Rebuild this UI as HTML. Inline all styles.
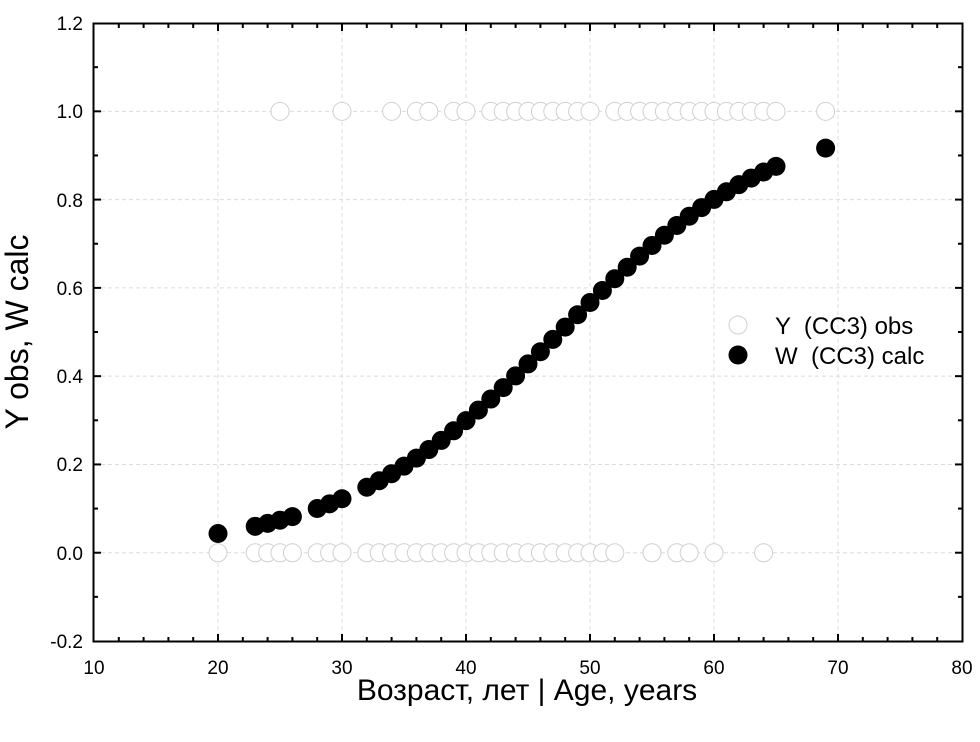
<!DOCTYPE html>
<html><head><meta charset="utf-8"><style>
html,body{margin:0;padding:0;background:#fff}
svg{display:block;font-family:"Liberation Sans",Arial,sans-serif}
</style></head><body>
<svg id="s" width="980" height="742" viewBox="0 0 980 742" xmlns="http://www.w3.org/2000/svg">
<g id="grid" stroke="#dcdcdc" stroke-width="1" stroke-dasharray="4,3"></g>
<g id="pts"></g>
<rect x="93.5" y="23.5" width="869" height="618" fill="none" stroke="#000" stroke-width="2"/>
<g id="ticks" stroke="#000" stroke-width="2"></g>
<g font-size="19" fill="#000" text-anchor="end">
<text x="83" y="30">1.2</text>
<text x="83" y="118">1.0</text>
<text x="83" y="207">0.8</text>
<text x="83" y="295">0.6</text>
<text x="83" y="383">0.4</text>
<text x="83" y="471">0.2</text>
<text x="83" y="560">0.0</text>
<text x="83" y="648">-0.2</text>
</g>
<g font-size="19" fill="#000" text-anchor="middle">
<text x="94" y="674">10</text>
<text x="218" y="674">20</text>
<text x="342" y="674">30</text>
<text x="466" y="674">40</text>
<text x="590" y="674">50</text>
<text x="714" y="674">60</text>
<text x="838" y="674">70</text>
<text x="962" y="674">80</text>
</g>
<text x="527" y="700" font-size="30" text-anchor="middle">Возраст, лет | Age, years</text>
<text transform="translate(28,332) rotate(-90)" font-size="32" text-anchor="middle">Y obs, W calc</text>
<circle cx="738" cy="325" r="9" fill="#fff" stroke="#d0d0d0" stroke-width="1"/>
<circle cx="738" cy="355" r="9.5" fill="#000"/>
<text x="775" y="334" font-size="24" xml:space="preserve">Y  (CC3) obs</text>
<text x="775" y="364" font-size="24" xml:space="preserve">W  (CC3) calc</text>
</svg>
<script>
var NS="http://www.w3.org/2000/svg";
function X(v){return 94+(v-10)*12.4}
function Y(v){return 641-(v+0.2)*441.4}
function el(p,t,a){var e=document.createElementNS(NS,t);for(var k in a)e.setAttribute(k,a[k]);document.getElementById(p).appendChild(e);}
for(var v=20;v<=70;v+=10)el("grid","line",{x1:X(v),x2:X(v),y1:24,y2:641});
for(var i=0;i<=6;i++){var y=Y(-0.2+i*0.2);el("grid","line",{x1:94,x2:962,y1:y,y2:y});}
for(var v=12;v<80;v+=2){el("ticks","line",{x1:X(v),x2:X(v),y1:641,y2:v%10==0?634:637});el("ticks","line",{x1:X(v),x2:X(v),y1:24,y2:v%10==0?31:28});}
for(var i=1;i<14;i++){var y=Y(-0.2+i*0.1);el("ticks","line",{x1:94,x2:i%2==0?101:98,y1:y,y2:y});el("ticks","line",{x1:962,x2:i%2==0?955:958,y1:y,y2:y});}
var o1=[25,30,34,36,37,39,40,42,43,44,45,46,47,48,49,50,52,53,54,55,56,57,58,59,60,61,62,63,64,65,69];
var o0=[20,23,24,25,26,28,29,30,32,33,34,35,36,37,38,39,40,41,42,43,44,45,46,47,48,49,50,51,52,55,57,58,60,64];
o1.forEach(function(a){el("pts","circle",{cx:X(a),cy:Y(1),r:9,fill:"#fff",stroke:"#d0d0d0","stroke-width":1});});
o0.forEach(function(a){el("pts","circle",{cx:X(a),cy:Y(0),r:9,fill:"#fff",stroke:"#d0d0d0","stroke-width":1});});
var c=o0.concat(o1).filter(function(v,i,a){return a.indexOf(v)==i}).sort(function(a,b){return a-b});
c.forEach(function(a){var p=1/(1+Math.exp(-0.112*(a-47.6)));el("pts","circle",{cx:X(a),cy:Y(p),r:9.5,fill:"#000"});});
</script>
</body></html>
